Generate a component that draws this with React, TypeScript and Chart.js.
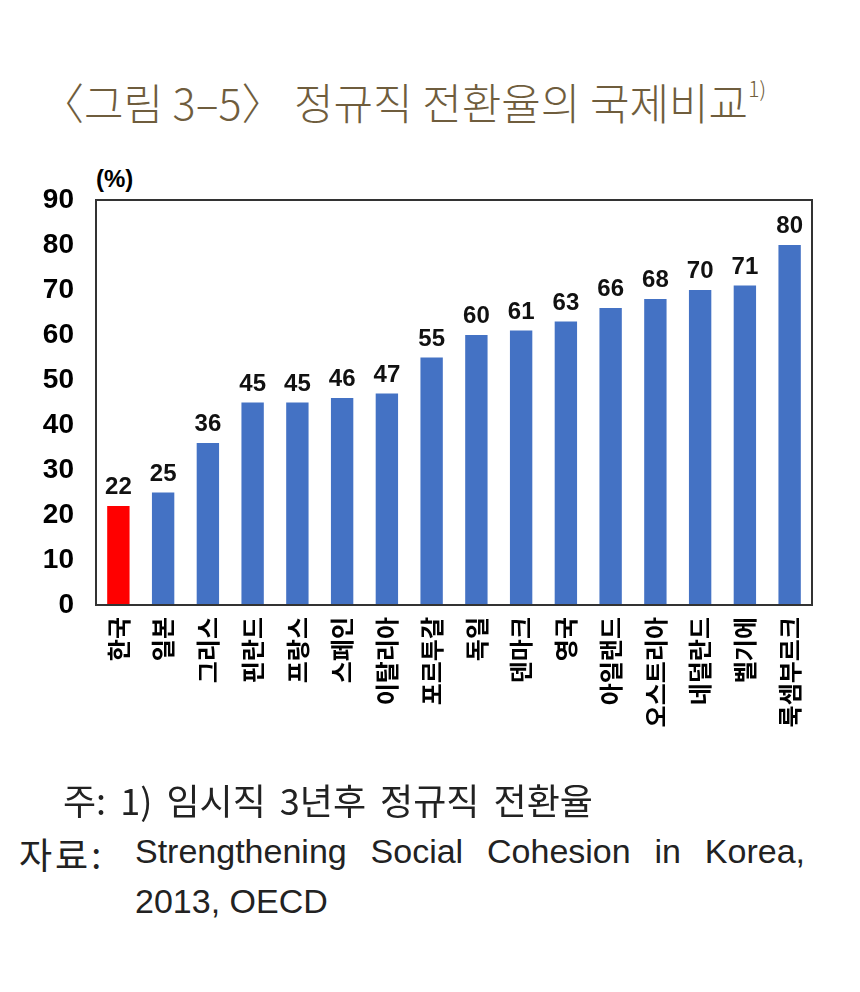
import React, { useEffect, useRef } from "react";
import { Chart, registerables } from "chart.js";

Chart.register(...registerables);

const categories = ["한국", "일본", "그리스", "핀란드", "프랑스", "스페인", "이탈리아", "포르투갈", "독일", "덴마크", "영국", "아일랜드", "오스트리아", "네덜란드", "벨기에", "룩셈부르크"];
const values = [22, 25, 36, 45, 45, 46, 47, 55, 60, 61, 63, 66, 68, 70, 71, 80];
const barColors = ["#FF0000", "#4472C4", "#4472C4", "#4472C4", "#4472C4", "#4472C4", "#4472C4", "#4472C4", "#4472C4", "#4472C4", "#4472C4", "#4472C4", "#4472C4", "#4472C4", "#4472C4", "#4472C4"];
const yMin = 0;
const yMax = 90;
const yStep = 10;

const KR = "'Noto Sans CJK KR', 'Noto Sans', sans-serif";
const AR = "'Liberation Sans', Arial, sans-serif";

const valueLabels = {
  id: "valueLabels",
  afterDatasetsDraw(chart: any) {
    const ctx = chart.ctx;
    const meta = chart.getDatasetMeta(0);
    ctx.save();
    ctx.font = `bold 24px ${AR}`;
    ctx.fillStyle = "#111";
    ctx.textAlign = "center";
    ctx.textBaseline = "alphabetic";
    meta.data.forEach((el: any, i: number) => {
      ctx.fillText(String(values[i]), el.x, el.y - 12);
    });
    ctx.restore();
  },
};

const frame = {
  id: "frame",
  afterDraw(chart: any) {
    const { ctx, chartArea: a } = chart;
    ctx.save();
    ctx.strokeStyle = "#333";
    ctx.lineWidth = 2;
    ctx.strokeRect(a.left, a.top, a.right - a.left, a.bottom - a.top);
    ctx.restore();
  },
};

export default function App() {
  const ref = useRef<HTMLCanvasElement>(null);
  useEffect(() => {
    document.body.style.margin = "0";
    const chart = new Chart(ref.current!, {
      type: "bar",
      data: {
        labels: categories,
        datasets: [
          {
            data: values,
            backgroundColor: barColors,
            borderWidth: 0,
            barPercentage: 0.5,
            categoryPercentage: 1,
          },
        ],
      },
      options: {
        animation: false,
        responsive: false,
        maintainAspectRatio: false,
        layout: { padding: { top: 40, right: 48, left: 0, bottom: 0 } },
        plugins: { legend: { display: false }, tooltip: { enabled: false } },
        scales: {
          x: {
            grid: { display: false },
            border: { display: false },
            ticks: {
              autoSkip: false,
              minRotation: 90,
              maxRotation: 90,
              padding: 4,
              color: "#000",
              font: { family: KR, size: 24, weight: "bold" },
            },
            afterFit(scale: any) {
              scale.height = 175;
            },
          },
          y: {
            min: yMin,
            max: yMax,
            grid: { display: false },
            border: { display: false },
            ticks: {
              stepSize: yStep,
              padding: 14,
              color: "#000",
              font: { family: AR, size: 28, weight: "bold" },
            },
            afterFit(scale: any) {
              scale.width = 96;
            },
          },
        },
      },
      plugins: [valueLabels, frame],
    });
    return () => chart.destroy();
  }, []);

  return (
    <div style={{ position: "relative", width: 860, height: 992, background: "#fff", overflow: "hidden" }}>
      <div
        style={{
          position: "absolute",
          left: 41,
          top: 80,
          fontFamily: KR,
          fontWeight: 300,
          fontSize: 43,
          lineHeight: 1,
          color: "#6f5d3d",
          whiteSpace: "nowrap",
        }}
      >
        〈그림 3–5〉 정규직 전환율의 국제비교<sup style={{ fontSize: 21, verticalAlign: "top", position: "relative", top: -2 }}>1)</sup>
      </div>
      <div
        style={{
          position: "absolute",
          left: 96,
          top: 165,
          fontFamily: AR,
          fontWeight: "bold",
          fontSize: 24,
          color: "#000",
        }}
      >
        (%)
      </div>
      <canvas ref={ref} width={860} height={620} style={{ position: "absolute", left: 0, top: 160, width: 860, height: 620 }} />
      <div
        style={{
          position: "absolute",
          left: 63,
          top: 781,
          fontFamily: KR,
          fontSize: 36,
          lineHeight: 1,
          color: "#222",
          whiteSpace: "nowrap",
          wordSpacing: 6,
        }}
      >
        주: 1) 임시직 3년후 정규직 전환율
      </div>
      <div
        style={{
          position: "absolute",
          left: 19,
          top: 835,
          fontFamily: KR,
          fontSize: 36,
          lineHeight: 1,
          color: "#222",
          whiteSpace: "nowrap",
          letterSpacing: 3,
        }}
      >
        자료:
      </div>
      <div
        style={{
          position: "absolute",
          left: 135,
          top: 832,
          width: 670,
          fontFamily: "'Liberation Sans Narrow', " + AR,
          fontSize: 34,
          color: "#222",
          textAlign: "justify",
          textAlignLast: "justify",
          whiteSpace: "nowrap",
        }}
      >
        Strengthening Social Cohesion in Korea,
      </div>
      <div
        style={{
          position: "absolute",
          left: 135,
          top: 882,
          fontFamily: "'Liberation Sans Narrow', " + AR,
          fontSize: 34,
          color: "#222",
          whiteSpace: "nowrap",
        }}
      >
        2013, OECD
      </div>
    </div>
  );
}
